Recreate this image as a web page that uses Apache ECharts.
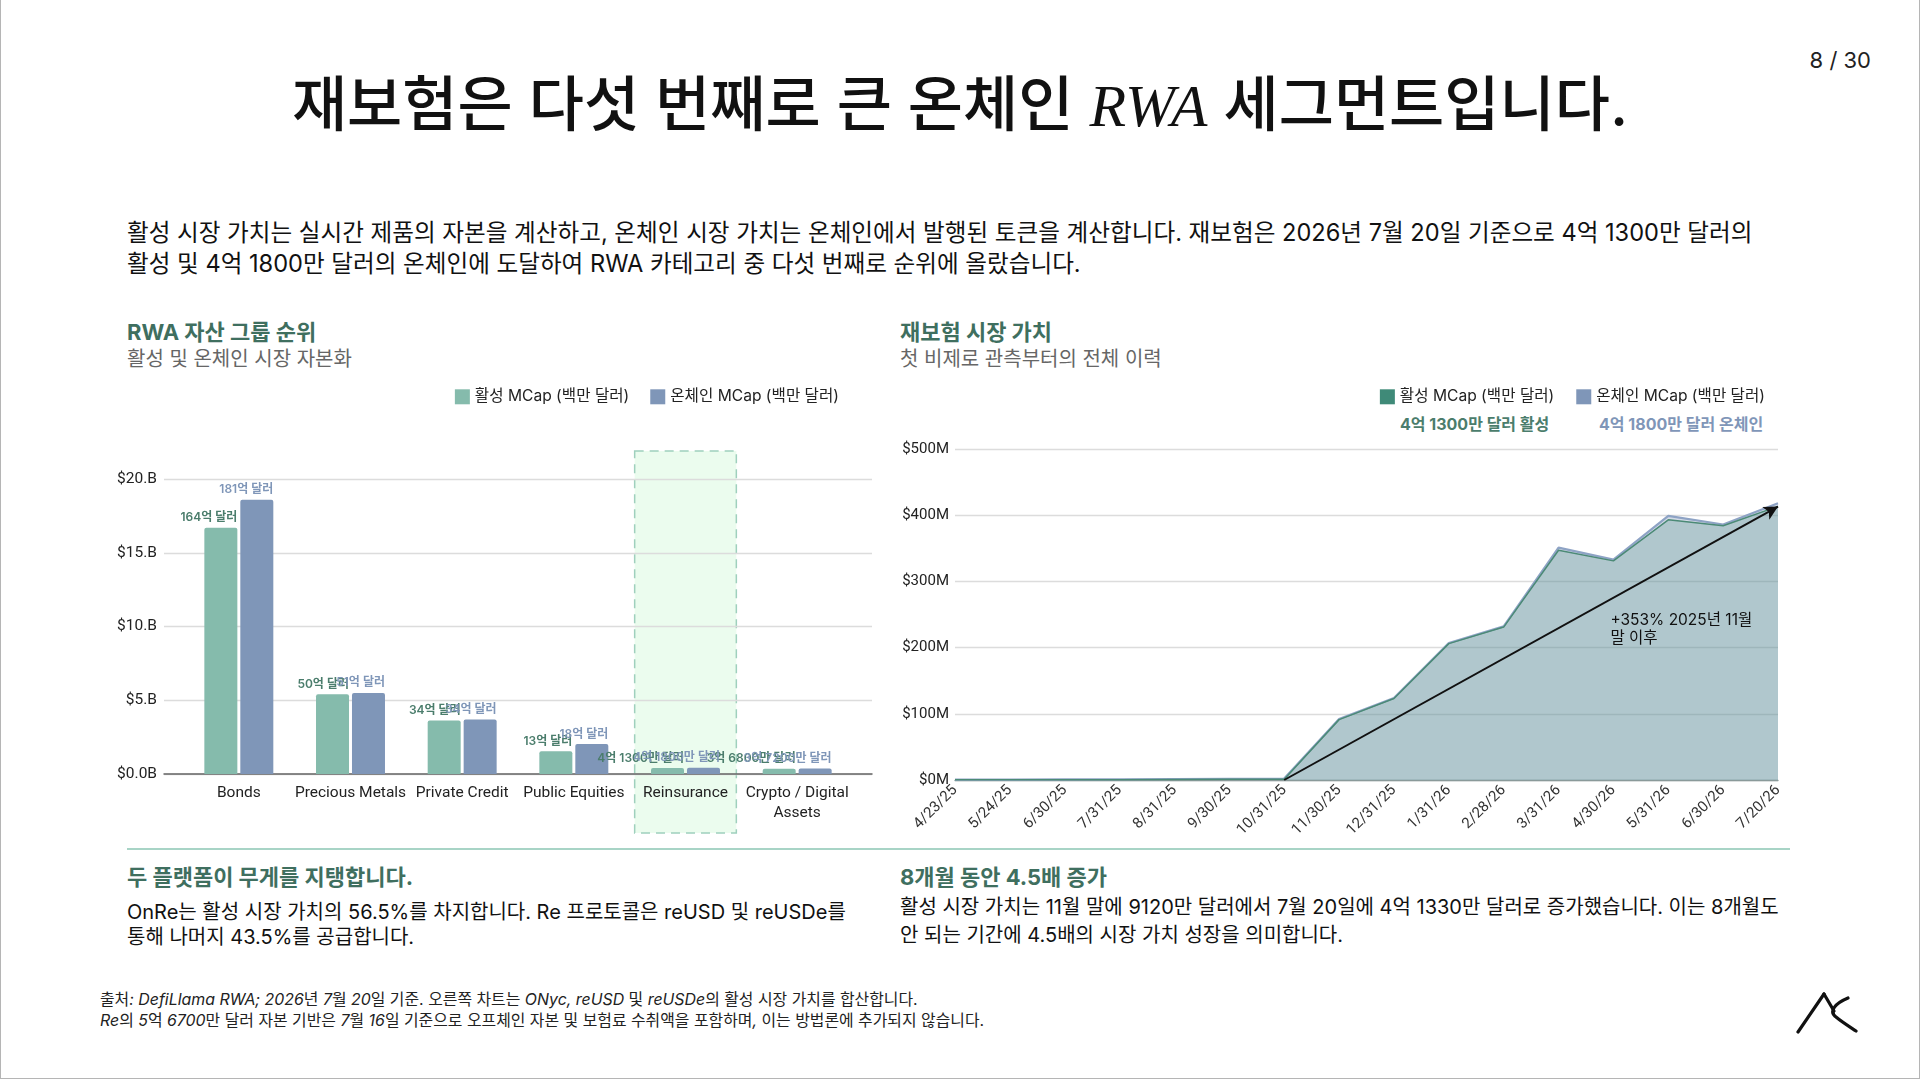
<!DOCTYPE html>
<html lang="ko">
<head>
<meta charset="utf-8">
<script src="https://cdn.jsdelivr.net/npm/echarts@6/dist/echarts.min.js"></script>
<style>
  html,body{margin:0;padding:0;background:#fff;}
  body{width:1920px;height:1080px;position:relative;overflow:hidden;font-family:Inter,"Noto Sans CJK KR",sans-serif;color:#1a1a1a;}
  .abs{position:absolute;white-space:nowrap;}
  .frame{position:absolute;left:0;top:0;width:1920px;height:1079px;box-sizing:border-box;border-left:1.5px solid #b5b5b5;border-right:1.5px solid #b5b5b5;border-bottom:1.5px solid #b5b5b5;}
  .chart{position:absolute;left:0;top:0;width:1920px;height:1080px;}
  .green{color:#3f6f5f;font-weight:700;}
  .serif{font-family:"Liberation Serif","DejaVu Serif",serif;font-style:italic;font-weight:400;}
  i{font-style:italic;}
</style>
</head>
<body>
<div class="frame"></div>
<div class="abs" style="right:49px;top:47px;font-size:22px;line-height:26px;color:#222;">8 / 30</div>
<div class="abs" style="left:0;width:1920px;text-align:center;top:62px;font-size:60px;line-height:84px;font-weight:500;color:#111;">재보험은 다섯 번째로 큰 온체인 <span class="serif">RWA</span> 세그먼트입니다.</div>
<div class="abs" style="left:127px;top:217px;font-size:23.6px;line-height:31px;color:#111;">활성 시장 가치는 실시간 제품의 자본을 계산하고, 온체인 시장 가치는 온체인에서 발행된 토큰을 계산합니다. 재보험은 2026년 7월 20일 기준으로 4억 1300만 달러의<br>활성 및 4억 1800만 달러의 온체인에 도달하여 RWA 카테고리 중 다섯 번째로 순위에 올랐습니다.</div>

<div class="abs green" style="left:127px;top:318px;font-size:22px;line-height:28px;">RWA 자산 그룹 순위</div>
<div class="abs" style="left:127px;top:346px;font-size:20px;line-height:26px;color:#666;">활성 및 온체인 시장 자본화</div>
<div class="abs green" style="left:900px;top:318px;font-size:22px;line-height:28px;">재보험 시장 가치</div>
<div class="abs" style="left:900px;top:346px;font-size:20px;line-height:26px;color:#666;">첫 비제로 관측부터의 전체 이력</div>
<div class="abs" style="left:1400px;top:412px;font-size:16px;line-height:24px;font-weight:700;color:#4b7d6c;">4억 1300만 달러 활성</div>
<div class="abs" style="left:1599px;top:412px;font-size:16px;line-height:24px;font-weight:700;color:#7f96b8;">4억 1800만 달러 온체인</div>

<div class="abs" style="left:127px;top:848px;width:1663px;height:2px;background:#a8d4c6;"></div>
<div class="abs green" style="left:127px;top:863px;font-size:22px;line-height:28px;">두 플랫폼이 무게를 지탱합니다.</div>
<div class="abs" style="left:127px;top:900px;font-size:20px;line-height:25px;color:#111;">OnRe는 활성 시장 가치의 56.5%를 차지합니다. Re 프로토콜은 reUSD 및 reUSDe를<br>통해 나머지 43.5%를 공급합니다.</div>
<div class="abs green" style="left:900px;top:863px;font-size:22px;line-height:28px;">8개월 동안 4.5배 증가</div>
<div class="abs" style="left:900px;top:893px;font-size:20px;line-height:28px;color:#111;">활성 시장 가치는 11월 말에 9120만 달러에서 7월 20일에 4억 1330만 달러로 증가했습니다. 이는 8개월도<br>안 되는 기간에 4.5배의 시장 가치 성장을 의미합니다.</div>

<div class="abs" style="left:100px;top:989px;font-size:15.9px;line-height:21px;color:#222;">출처<i>: DefiLlama RWA; 2026</i>년 <i>7</i>월 <i>20</i>일 기준. 오른쪽 차트는 <i>ONyc, reUSD</i> 및 <i>reUSDe</i>의 활성 시장 가치를 합산합니다.<br><i>Re</i>의 <i>5</i>억 <i>6700</i>만 달러 자본 기반은 <i>7</i>월 <i>16</i>일 기준으로 오프체인 자본 및 보험료 수취액을 포함하며<i>,</i> 이는 방법론에 추가되지 않습니다.</div>

<svg class="abs" style="left:1790px;top:985px;" width="75" height="55" viewBox="0 0 75 55">
  <path d="M8 47 L34 9" stroke="#111" stroke-width="3.2" fill="none" stroke-linecap="round"/>
  <path d="M34 9 L44 26" stroke="#111" stroke-width="3.2" fill="none" stroke-linecap="round"/>
  <path d="M58 13 C46 18 38 26 46 32 C52 37 60 42 66 46" stroke="#111" stroke-width="3.2" fill="none" stroke-linecap="round"/>
</svg>

<!-- underlay for the Reinsurance highlight box (positioned from the chart scale below) -->
<svg id="hl" class="abs" style="left:0;top:0;" width="1920" height="1080"><rect id="hlRect" fill="#ebfcee" stroke="#9fd0bd" stroke-width="1.5" stroke-dasharray="9 6"/></svg>

<div id="chartL" class="chart"></div>
<div id="chartR" class="chart"></div>

<script>
// ---------- data: left chart (billions USD) ----------
const rankCategories = ['Bonds', 'Precious Metals', 'Private Credit', 'Public Equities', 'Reinsurance', 'Crypto / Digital Assets'];
const rankActive = [16.7, 5.4, 3.63, 1.55, 0.413, 0.36];
const rankOnchain = [18.6, 5.5, 3.69, 2.03, 0.418, 0.37];
const rankActiveLabels = ['164억 달러', '50억 달러', '34억 달러', '13억 달러', '4억 1300만 달러', '3억 6800만 달러'];
const rankOnchainLabels = ['181억 달러', '51억 달러', '34억 달러', '18억 달러', '4억 1800만 달러', '3억 7200만 달러'];
const rankTicks = [0, 5, 10, 15, 20];

// ---------- data: right chart (millions USD) ----------
const dates = ['4/23/25', '5/24/25', '6/30/25', '7/31/25', '8/31/25', '9/30/25', '10/31/25', '11/30/25', '12/31/25', '1/31/26', '2/28/26', '3/31/26', '4/30/26', '5/31/26', '6/30/26', '7/20/26'];
const activeM = [0.2, 0.3, 0.4, 0.5, 0.8, 1.0, 1.2, 91.2, 123, 206, 231, 347, 331, 393, 384, 413.3];
const onchainM = [0.5, 0.7, 0.9, 1.1, 1.5, 1.8, 2.2, 92, 124, 207, 232, 351, 333, 399, 386, 418];
const arrowFrom = ['10/31/25', 0];
const arrowTo = ['7/20/26', 413];
const annotationText = '+353% 2025년 11월\n말 이후';

const nameA = '활성 MCap (백만 달러)';
const nameO = '온체인 MCap (백만 달러)';
const FONT = 'Roboto, "Noto Sans CJK KR", sans-serif';
const KFONT = 'Inter, "Noto Sans CJK KR", sans-serif';

// ---------- left chart ----------
const chartL = echarts.init(document.getElementById('chartL'), null, {renderer: 'canvas'});
const barLabel = (labels, color) => ({
  show: true, position: 'top', distance: 4, align: 'right', offset: [16.5, 0],
  formatter: p => labels[p.dataIndex], color: color, fontSize: 12, fontWeight: 600, fontFamily: KFONT
});
chartL.setOption({
  animation: false,
  textStyle: {fontFamily: FONT},
  legend: {
    right: 1076, top: 384, itemWidth: 15, itemHeight: 15, itemGap: 21, icon: 'rect',
    textStyle: {fontSize: 15.6, color: '#222', fontFamily: KFONT},
    data: [nameA, nameO]
  },
  grid: [
    {left: 164, width: 708, top: 479, height: 295, containLabel: false, outerBoundsMode: 'none'},
    {left: 183, width: 670, top: 479, height: 295, containLabel: false, outerBoundsMode: 'none'}
  ],
  xAxis: [
    {type: 'value', gridIndex: 0, min: 0, max: 1, axisLine: {show: true, lineStyle: {color: '#666', width: 1.5}},
     axisTick: {show: false}, axisLabel: {show: false}, splitLine: {show: false}},
    {type: 'category', gridIndex: 1, data: rankCategories, axisLine: {show: false}, axisTick: {show: false},
     axisLabel: {fontSize: 15.5, color: '#222', margin: 9, lineHeight: 20, interval: 0,
       formatter: v => v.replace('Digital ', 'Digital\n')}}
  ],
  yAxis: [
    {type: 'value', gridIndex: 0, min: rankTicks[0], max: rankTicks[rankTicks.length - 1], interval: 5,
     axisLine: {show: false}, axisTick: {show: false},
     axisLabel: {fontSize: 15.5, color: '#222', margin: 7, formatter: v => v === 0 ? '$0.0B' : '$' + v + '.B'},
     splitLine: {lineStyle: {color: '#dcdcdc', width: 1.3}}},
    {type: 'value', gridIndex: 1, min: 0, max: 20, show: false, splitLine: {show: false}}
  ],
  series: [
    {name: nameA, type: 'bar', xAxisIndex: 1, yAxisIndex: 1, data: rankActive, barWidth: 33, barGap: '9%',
     itemStyle: {color: '#85bbac', borderRadius: [2, 2, 0, 0]}, label: barLabel(rankActiveLabels, '#4b7d6c'), z: 3},
    {name: nameO, type: 'bar', xAxisIndex: 1, yAxisIndex: 1, data: rankOnchain, barWidth: 33,
     itemStyle: {color: '#7f96b8', borderRadius: [2, 2, 0, 0]}, label: barLabel(rankOnchainLabels, '#7f96b8'), z: 3}
  ]
});
// highlight box around the Reinsurance group, placed from the chart's own scale
(function () {
  const cx = chartL.convertToPixel({xAxisIndex: 1}, 'Reinsurance');
  const prev = chartL.convertToPixel({xAxisIndex: 1}, 'Public Equities');
  const band = cx - prev;
  const yTop = chartL.convertToPixel({yAxisIndex: 0}, 20);
  const yBase = chartL.convertToPixel({yAxisIndex: 0}, 0);
  const r = document.getElementById('hlRect');
  r.setAttribute('x', cx - band / 2 + 5);
  r.setAttribute('y', yTop - 28);
  r.setAttribute('width', band - 10);
  r.setAttribute('height', (yBase + 59) - (yTop - 28));
})();

// ---------- right chart ----------
const chartR = echarts.init(document.getElementById('chartR'), null, {renderer: 'canvas'});
chartR.setOption({
  animation: false,
  textStyle: {fontFamily: FONT},
  legend: {
    right: 150, top: 384, itemWidth: 15, itemHeight: 15, itemGap: 22, icon: 'rect',
    textStyle: {fontSize: 15.6, color: '#222', fontFamily: KFONT},
    data: [{name: nameA, itemStyle: {color: '#3f8a78'}}, {name: nameO, itemStyle: {color: '#7f96b8'}}]
  },
  grid: {left: 955, width: 823, top: 449, height: 331, containLabel: false, outerBoundsMode: 'none'},
  xAxis: {
    type: 'category', data: dates, boundaryGap: false,
    axisLine: {show: true, lineStyle: {color: '#8a9a9a', width: 1.3}}, axisTick: {show: false},
    axisLabel: {rotate: 45, fontSize: 15, color: '#333', margin: 8, interval: 0}
  },
  yAxis: {
    type: 'value', min: 0, max: 500, interval: 100,
    axisLine: {show: false}, axisTick: {show: false},
    axisLabel: {fontSize: 15, color: '#222', margin: 6, formatter: v => '$' + v + 'M'},
    splitLine: {lineStyle: {color: '#dcdcdc', width: 1.3}}
  },
  series: [
    {name: nameO, type: 'line', data: onchainM, symbol: 'none', z: 2,
     itemStyle: {color: '#7f96b8'},
     lineStyle: {color: '#8ea3c5', width: 2.2},
     areaStyle: {color: 'rgba(127,150,184,0.5)'}},
    {name: nameA, type: 'line', data: activeM, symbol: 'none', z: 3,
     itemStyle: {color: '#3f8a78'},
     lineStyle: {color: '#4b8a76', width: 1.5},
     areaStyle: {color: 'rgba(63,138,120,0.33)'},
     markLine: {
       silent: true, symbol: ['none', 'arrow'], symbolSize: [11, 14], animation: false,
       lineStyle: {color: '#111', width: 2, type: 'solid'}, label: {show: false},
       data: [[{coord: arrowFrom}, {coord: arrowTo}]]
     }}
  ]
});
(function () {
  const p = chartR.convertToPixel({xAxisIndex: 0, yAxisIndex: 0}, ['4/30/26', 255]);
  chartR.setOption({
    graphic: [{
      type: 'text', z: 10, silent: true, x: p[0] - 3, y: p[1],
      style: {text: annotationText, fontSize: 15.5, lineHeight: 18, fill: '#111', fontFamily: KFONT}
    }]
  });
})();
</script>
</body>
</html>
